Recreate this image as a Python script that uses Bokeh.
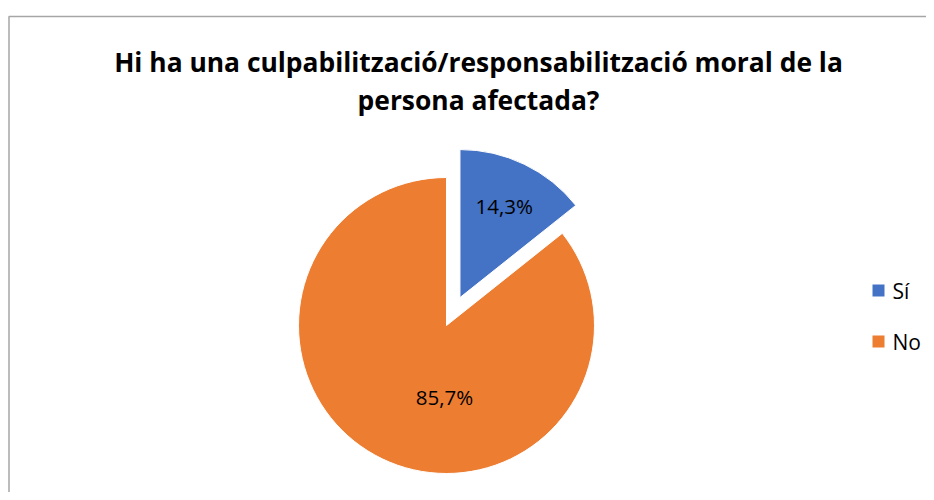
import math
from bokeh.plotting import figure
from bokeh.models import Range1d, ColumnDataSource
from bokeh.core.properties import value
from bokeh.embed import file_html
from bokeh.resources import INLINE

# ---- data ----
title_lines = ["Hi ha una culpabilització/responsabilització moral de la", "persona afectada?"]
categories = ["Sí", "No"]
values = [14.3, 85.7]
colors = ["#4472C4", "#ED7D31"]
explode = [31, 0]
label_text = ["14,3%", "85,7%"]

# ---- layout (data: x = px, y = 492 - py) ----
W, H = 926, 492
FONT = "Open Sans"
p = figure(width=W, height=H, output_backend="svg", toolbar_location=None,
           x_range=Range1d(0, W), y_range=Range1d(0, H), min_border=0)
p.axis.visible = False
p.grid.visible = False
p.outline_line_color = None
p.background_fill_color = "white"

# chart border (left and top visible)
p.line([8.5, 8.5, W], [0, 476, 476], line_color="#a6a6a6", line_width=1.5)

# title
for i, t in enumerate(title_lines):
    p.text(x=[478], y=[431 - 38 * i], text=[t], text_align="center", text_baseline="middle",
           text_font=value(FONT), text_font_style="bold", text_font_size="26.4px", text_color="black")

cx, cy, r = 446, 167, 148
total = sum(values)
starts, ends, xs, ys, lx, ly = [], [], [], [], [], []
ang = math.pi / 2
label_pos = [(0.69, None), (0.48, -91.6)]
for i, v in enumerate(values):
    sweep = 2 * math.pi * v / total
    s = ang
    e = ang - sweep
    mid = (s + e) / 2
    ox = cx + explode[i] * math.cos(mid)
    oy = cy + explode[i] * math.sin(mid)
    starts.append(s)
    ends.append(e)
    xs.append(ox)
    ys.append(oy)
    frac, a = label_pos[i]
    la = mid if a is None else math.radians(a)
    lx.append(ox + frac * r * math.cos(la))
    ly.append(oy + frac * r * math.sin(la))
    ang = e

src = ColumnDataSource(dict(x=xs, y=ys, start=starts, end=ends, color=colors,
                            lx=lx, ly=ly, lab=label_text))
p.wedge(x="x", y="y", radius=r, start_angle="start", end_angle="end", direction="clock",
        fill_color="color", line_color="white", line_width=1, source=src)
p.text(x="lx", y="ly", text="lab", source=src, text_align="center", text_baseline="middle",
       text_font=value(FONT), text_font_size="20.5px", text_color="black")

# legend
leg_y = [202 - 51 * i for i in range(len(categories))]
leg_src = ColumnDataSource(dict(x=[878] * len(categories), y=leg_y, color=colors,
                                tx=[892] * len(categories), lab=categories))
p.scatter(x="x", y="y", marker="square", size=12, fill_color="color", line_color=None, source=leg_src)
p.text(x="tx", y="y", text="lab", source=leg_src, text_align="left", text_baseline="middle",
       text_font=value(FONT), text_font_size="21px", text_color="black")

open("out.html", "w").write(file_html(p, INLINE))
